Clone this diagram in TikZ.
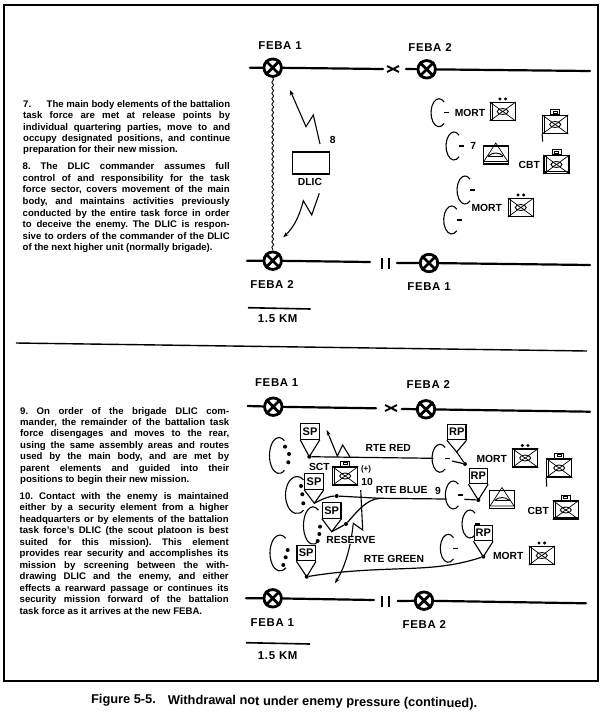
\documentclass[tikz,border=0pt]{standalone}
\usepackage{fontspec}
\setmainfont{Liberation Sans}
\newfontfamily\labf[LetterSpace=6]{Liberation Sans}
\usetikzlibrary{arrows.meta,decorations.pathmorphing,calc}
\newlength{\tw}
\newcommand\JLine[1]{\hbox to \tw{#1}}
\newcommand\LLine[1]{\hbox{#1}}
\tikzset{
 x=1pt,y=-1pt,
 frame/.style={line width=2pt},
 feba/.style={circle,draw,fill=white,line width=2.8pt,minimum size=17.5pt,inner sep=0pt},
 febax/.style={line width=2.8pt},
 febaline/.style={line width=2.2pt,line cap=round},
 lab/.style={font=\bfseries\fontsize{10.3}{12}\selectfont,inner sep=0pt},
 feblab/.style={font=\labf\bfseries\fontsize{11.4}{12}\selectfont,inner sep=0pt},
 para/.style={anchor=north west,inner sep=0pt,font=\bfseries\fontsize{9.6}{11.3}\selectfont},
 unitbox/.style={draw,line width=1.1pt,fill=white,minimum width=25pt,minimum height=18pt,inner sep=0pt},
 thinl/.style={line width=0.7pt},
 hqtop/.style={draw,line width=0.9pt,fill=white,minimum width=9pt,minimum height=5pt,inner sep=0pt,anchor=south},
 dotn/.style={circle,fill=black,minimum size=4pt,inner sep=0pt},
 flagbox/.style={draw,line width=1.1pt,fill=white,inner sep=0pt,font=\bfseries\fontsize{11}{12}\selectfont},
 route/.style={line width=1.2pt},
 bolt/.style={line width=1.1pt,-{Stealth[length=5.5pt,width=4pt]}},
 aaline/.style={line width=1.1pt},
}
\newcommand\Feba[3]{\node[feba] (#1) at (#2,#3) {};\draw[febax] (#1.45)--(#1.225) (#1.135)--(#1.-45);}
\newcommand\AssA[3]{\coordinate (#1) at (#2,#3);\draw[aaline] (#1) ++(50:8 and 14) arc[start angle=50,end angle=310,x radius=8,y radius=14];\draw[line width=1.3pt] ($(#1)+(5,0)$) -- ($(#1)+(10,0)$);}
\newcommand\OvalA[6]{\coordinate (#1) at (#2,#3);\draw[aaline] (#1) ++(#6:#4 and #5) arc[start angle=#6,end angle=360-#6,x radius=#4,y radius=#5];}
\newcommand\UnitB[3]{\node[unitbox] (#1) at (#2,#3) {};
 \draw[thinl] (#1.north west)--(#1.south east) (#1.south west)--(#1.north east);
 \draw[thinl] ([xshift=2.5pt]#1.north west)--([xshift=2.5pt]#1.south west);
 \draw[line width=0.9pt,fill=white] (#1.center) ellipse (5.5 and 3);
 \draw[thinl] ($(#1.center)+(-3.5,-2.2)$)--($(#1.center)+(3.5,2.2)$) ($(#1.center)+(-3.5,2.2)$)--($(#1.center)+(3.5,-2.2)$);}
\newcommand\TwoDots[1]{\fill ([xshift=-2.8pt,yshift=3pt]#1.north) circle (1.7);\fill ([xshift=2.8pt,yshift=3pt]#1.north) circle (1.7);}
\newcommand\HqTop[1]{\node[hqtop] (#1h) at (#1.north) {};\draw[thinl] ([xshift=-2pt,yshift=1pt]#1h.center) rectangle ([xshift=2pt,yshift=-1pt]#1h.center);}
\newcommand\Arty[3]{\node[unitbox] (#1) at (#2,#3) {};
 \draw[thinl] ($(#1.center)+(0,-12)$)--($(#1.center)+(-12,6.5)$)--($(#1.center)+(12,6.5)$)--cycle;
 \draw[line width=0.9pt] ($(#1.center)+(-7.5,1)$) .. controls ($(#1.center)+(-3,-3)$) and ($(#1.center)+(3,-3)$) .. ($(#1.center)+(7.5,1)$);
 \draw[line width=0.9pt] ($(#1.center)+(-7.5,1)$) -- ($(#1.center)+(7.5,1)$);}
\newcommand\FlagB[6]{\node[flagbox,minimum width=18.5pt,minimum height=15.5pt] (#1) at (#2,#3) {#4};
 \coordinate (#1t) at (#5,#6);
 \draw[line width=1.1pt] (#1.south west)--(#1t)--(#1.south east);}
\begin{document}
\begin{tikzpicture}
\useasboundingbox (0,0) rectangle (600,718);
\fill[white] (0,0) rectangle (600,718);
\draw[frame] (3.5,4.5) rectangle (598,680.5);
\coordinate (ma) at (16,343);\coordinate (mb) at (587,351);
\draw[line width=1.4pt] (ma)--(mb);

% ---------- text -----------
\setlength{\tw}{207pt}
\node[para] (p7) at (23,100.5) {\vbox{\baselineskip=11.3pt
\JLine{7.\hfil\hskip 4pt The main body elements of the battalion}
\JLine{task\hfil force\hfil are\hfil met\hfil at\hfil release\hfil points\hfil by}
\JLine{individual\hfil quartering\hfil parties,\hfil move\hfil to\hfil and}
\JLine{occupy\hfil designated\hfil positions,\hfil and\hfil continue}
\LLine{preparation for their new mission.}}};
\node[para] (p8) at (22.5,162.5) {\vbox{\baselineskip=11.6pt
\JLine{8.\hfil The\hfil DLIC\hfil commander\hfil assumes\hfil full}
\JLine{control\hfil of\hfil and\hfil responsibility\hfil for\hfil the\hfil task}
\JLine{force\hfil sector,\hfil covers\hfil movement\hfil of\hfil the\hfil main}
\JLine{body,\hfil and\hfil maintains\hfil activities\hfil previously}
\JLine{conducted\hfil by\hfil the\hfil entire\hfil task\hfil force\hfil in\hfil order}
\JLine{to\hfil deceive\hfil the\hfil enemy.\hfil The\hfil DLIC\hfil is\hfil respon-}
\JLine{sive\hfil to\hfil orders\hfil of\hfil the\hfil commander\hfil of\hfil the\hfil DLIC}
\LLine{of the next higher unit (normally brigade).}}};
\setlength{\tw}{209pt}
\node[para] (p9) at (20,407) {\vbox{\baselineskip=11.4pt
\JLine{9.\hfil On\hfil order\hfil of\hfil the\hfil brigade\hfil DLIC\hfil com-}
\JLine{mander,\hfil the\hfil remainder\hfil of\hfil the\hfil battalion\hfil task}
\JLine{force\hfil disengages\hfil and\hfil moves\hfil to\hfil the\hfil rear,}
\JLine{using\hfil the\hfil same\hfil assembly\hfil areas\hfil and\hfil routes}
\JLine{used\hfil by\hfil the\hfil main\hfil body,\hfil and\hfil are\hfil met\hfil by}
\JLine{parent\hfil elements\hfil and\hfil guided\hfil into\hfil their}
\LLine{positions to begin their new mission.}}};
\node[para] (p10) at (19.5,492) {\vbox{\baselineskip=11.5pt
\JLine{10.\hfil Contact\hfil with\hfil the\hfil enemy\hfil is\hfil maintained}
\JLine{either\hfil by\hfil a\hfil security\hfil element\hfil from\hfil a\hfil higher}
\JLine{headquarters\hfil or\hfil by\hfil elements\hfil of\hfil the\hfil battalion}
\JLine{task\hfil force's\hfil DLIC\hfil (the\hfil scout\hfil platoon\hfil is\hfil best}
\JLine{suited\hfil for\hfil this\hfil mission).\hfil This\hfil element}
\JLine{provides\hfil rear\hfil security\hfil and\hfil accomplishes\hfil its}
\JLine{mission\hfil by\hfil screening\hfil between\hfil the\hfil with-}
\JLine{drawing\hfil DLIC\hfil and\hfil the\hfil enemy,\hfil and\hfil either}
\JLine{effects\hfil a\hfil rearward\hfil passage\hfil or\hfil continues\hfil its}
\JLine{security\hfil mission\hfil forward\hfil of\hfil the\hfil battalion}
\LLine{task force as it arrives at the new FEBA.}}};
\node[anchor=west,inner sep=0pt,rotate=-0.6,font=\bfseries\fontsize{12.8}{14}\selectfont] (cap) at (91,700) {Figure 5-5.\hskip 12pt Withdrawal not under enemy pressure (continued).};

% ---------- top panel -----------
\Feba{ta}{272.7}{67.7}\Feba{tb}{426.7}{69.3}\Feba{tc}{272.7}{260.7}\Feba{td}{429}{263}
\coordinate (t1) at (250,67.7);\coordinate (t2) at (383,69);\coordinate (t3) at (406,69);\coordinate (t4) at (590,71);
\draw[febaline] (t1)--(ta) (ta)--(t2) (t3)--(tb) (tb)--(t4);
\coordinate (tx1) at (387,66);\coordinate (tx2) at (399,72);\coordinate (tx3) at (387,72);\coordinate (tx4) at (399,66);
\draw[line width=1.8pt] (tx1)--(tx2) (tx3)--(tx4);
\coordinate (b1) at (247,260.7);\coordinate (b2) at (370,262);\coordinate (b3) at (397,263);\coordinate (b4) at (590,265);
\draw[febaline] (b1)--(tc) (tc)--(b2) (b3)--(td) (td)--(b4);
\coordinate (ii1) at (382,257.5);\coordinate (ii2) at (382,268.5);\coordinate (ii3) at (389,257.5);\coordinate (ii4) at (389,268.5);
\draw[line width=1.8pt] (ii1)--(ii2) (ii3)--(ii4);
\node[feblab] (l1) at (280,45.7) {FEBA 1};
\node[feblab] (l2) at (430,47.7) {FEBA 2};
\node[feblab] (l3) at (272,284.7) {FEBA 2};
\node[feblab] (l4) at (429,287) {FEBA 1};
\coordinate (s1) at (248,307.7);\coordinate (s2) at (310.7,309);
\draw[line width=1.6pt] (s1)--(s2);
\node[feblab] (l5) at (277.7,319) {1.5 KM};
\draw[line width=0.9pt,decorate,decoration={snake,amplitude=0.9pt,segment length=5.5pt}] (ta)--(tc);
\node[draw,line width=1.4pt,minimum width=37pt,minimum height=22pt,inner sep=0pt] (dlic) at (311,163) {};
\node[lab] (l6) at (310,181.7) {DLIC};
\node[lab] (l7) at (332.7,140) {8};
\coordinate (u1) at (320,144);\coordinate (u2) at (313.3,115);\coordinate (u3) at (306,126.7);\coordinate (u4) at (290,90);
\draw[bolt] (u1)--(u2)--(u3)--(u4);
\coordinate (d1) at (319.3,193.3);\coordinate (d2) at (311.7,215);\coordinate (d3) at (303.3,200.7);\coordinate (d4) at (283.3,237.3);
\draw[bolt] (d1)--(d2)--(d3) .. controls (299,218) and (293,228) .. (d4);
\AssA{ta1}{439}{112.7}\AssA{ta2}{454}{146}\AssA{ta3}{465}{190}\AssA{ta4}{451.7}{220}
\node[lab] (l8) at (470,113) {MORT};
\node[lab] (l9) at (473.3,145.7) {7};
\node[lab] (l10) at (529.3,165) {CBT};
\node[lab] (l11) at (486.7,207.7) {MORT};
\UnitB{tm1}{502.7}{111.5}\TwoDots{tm1}
\Arty{ta5}{495.8}{155}
\UnitB{th}{555.2}{124.5}\HqTop{th}
\coordinate (ths) at (542.7,141.7);\draw[line width=1pt] (th.south west)--(ths);
\UnitB{tc1}{556.5}{164.5}\HqTop{tc1}
\draw[thinl] ([yshift=2.5pt]tc1.south west)--([yshift=2.5pt]tc1.south east);
\UnitB{tm2}{520.8}{207.5}\TwoDots{tm2}

% ---------- bottom panel -----------
\Feba{ba}{273.3}{406.7}\Feba{bb}{426}{409.3}\Feba{bc}{272.7}{598.3}\Feba{bd}{424}{600.7}
\coordinate (c1) at (247.7,406);\coordinate (c2) at (376,408.3);\coordinate (c3) at (401.7,409);\coordinate (c4) at (590,411.7);
\draw[febaline] (c1)--(ba) (ba)--(c2) (c3)--(bb) (bb)--(c4);
\coordinate (cx1) at (385,405);\coordinate (cx2) at (397,411);\coordinate (cx3) at (385,411);\coordinate (cx4) at (397,405);
\draw[line width=1.8pt] (cx1)--(cx2) (cx3)--(cx4);
\coordinate (e1) at (246,598.3);\coordinate (e2) at (374,600);\coordinate (e3) at (397.7,601);\coordinate (e4) at (586,603.3);
\draw[febaline] (e1)--(bc) (bc)--(e2) (e3)--(bd) (bd)--(e4);
\coordinate (jj1) at (382,595.5);\coordinate (jj2) at (382,606.5);\coordinate (jj3) at (389,595.5);\coordinate (jj4) at (389,606.5);
\draw[line width=1.8pt] (jj1)--(jj2) (jj3)--(jj4);
\node[feblab] (m1) at (276.7,382.3) {FEBA 1};
\node[feblab] (m2) at (428.3,384.3) {FEBA 2};
\node[feblab] (m3) at (272.3,622.3) {FEBA 1};
\node[feblab] (m4) at (424.3,624.3) {FEBA 2};
\coordinate (s3) at (246,642.7);\coordinate (s4) at (310,644);
\draw[line width=1.6pt] (s3)--(s4);
\node[feblab] (m5) at (277.7,655.5) {1.5 KM};

\OvalA{o1}{279}{455.5}{9.5}{18}{55}
\OvalA{o2}{297}{495}{11.5}{18.5}{55}
\OvalA{o3}{313}{525.5}{9.5}{18.7}{55}
\OvalA{o4}{280}{553}{10}{18}{55}
\foreach \x/\y in {285/446.7,289/454,288.3/462.3,301/486,302.3/494.3,303.3/503.3,320/526.7,319.3/534,317.7/541,287.7/550,285.7/557.3,283.3/565}{\fill (\x,\y) circle (2);}

\AssA{ra1}{440}{458.3}
\AssA{ra2}{453.3}{495}
\AssA{ra3}{470}{524}
\AssA{ra4}{448.3}{548.3}

\FlagB{sp1}{310}{431.5}{SP}{309.3}{456.7}
\FlagB{sp2}{314}{481.5}{SP}{314.3}{503.3}
\FlagB{sp3}{331.7}{510.5}{SP}{331.7}{531.7}
\FlagB{sp4}{306.2}{553}{SP}{306.7}{576.7}
\FlagB{rp1}{456.7}{432}{RP}{456.7}{452}
\FlagB{rp2}{478.3}{476}{RP}{478.3}{500}
\FlagB{rp3}{483.3}{533}{RP}{483.3}{556.7}
\node[dotn] (dt1) at (sp1t) {};\node[dotn] (dt4) at (sp4t) {};\node[dotn] (dt5) at (465,464) {};
\node[dotn] (dt6) at (rp2t) {};\node[dotn] (dt7) at (rp3t) {};\node[dotn] (dt8) at (336.7,496) {};\node[dotn] (dt9) at (346,524) {};

\draw[line width=1.1pt] (rp1t)--(dt5);
\coordinate (rbj) at (380,498.3);
\coordinate (ored) at (433.3,458.3);\coordinate (oblue) at (446.5,499);
\draw[route] (dt1)--(ored);
\draw[route] (sp2t) .. controls (322,499) and (330,496) .. (dt8) -- (rbj) -- (oblue);
\draw[route] (sp3t)--(dt9) .. controls (356,513) and (366,499) .. (rbj);
\draw[route] (dt4) .. controls (360,568) and (400,570) .. (433,567) .. controls (455,565) and (470,561) .. (dt7);
\node[lab] (r1) at (388.3,447.7) {RTE RED};
\node[lab] (r2) at (401.7,490) {RTE BLUE};
\node[lab] (r3) at (394,559.3) {RTE GREEN};
\node[lab] (r4) at (438,490.7) {9};

\coordinate (a1) at (350,457);\coordinate (a2) at (342.7,445);\coordinate (a3) at (337.3,456);\coordinate (a4) at (326.7,430);
\draw[bolt] (a1)--(a2)--(a3)--(a4);

\UnitB{sct}{345.2}{476}\HqTop{sct}
\node[lab] (r5) at (319.3,467.3) {SCT};
\node[lab,font=\bfseries\fontsize{8}{9}\selectfont] (r6) at (366,469.3) {(+)};
\node[lab] (r7) at (367,481.7) {10};
\coordinate (z1) at (360.7,490);\coordinate (z2) at (362.7,530);\coordinate (z3) at (353.3,523.3);\coordinate (z4) at (335,583.3);
\draw[bolt] (z1)--(z2)--(z3) .. controls (351,545) and (346,565) .. (z4);
\node[lab,fill=white,inner sep=0.5pt] (r8) at (351,540) {RESERVE};

\coordinate (ra1b) at (452,461);
\draw[line width=1.2pt] (ra1b)--(dt5);
\coordinate (ra2b) at (464.3,499.3);
\draw[line width=1.2pt] (ra2b)--(dt6);

\node[lab] (r9) at (491.7,459) {MORT};
\node[lab] (r10) at (538.3,511) {CBT};
\node[lab] (r11) at (508.3,556) {MORT};
\UnitB{bm1}{525.2}{458}\TwoDots{bm1}
\Arty{ba5}{502}{499.5}
\UnitB{bh}{559.2}{468}\HqTop{bh}
\coordinate (bhs) at (546.7,486.7);\draw[line width=1pt] (bh.south west)--(bhs);
\UnitB{bc1}{565.8}{510}\HqTop{bc1}
\draw[thinl] ([yshift=2.5pt]bc1.south west)--([yshift=2.5pt]bc1.south east);
\UnitB{bm2}{541.8}{555.5}\TwoDots{bm2}
\end{tikzpicture}
\end{document}
